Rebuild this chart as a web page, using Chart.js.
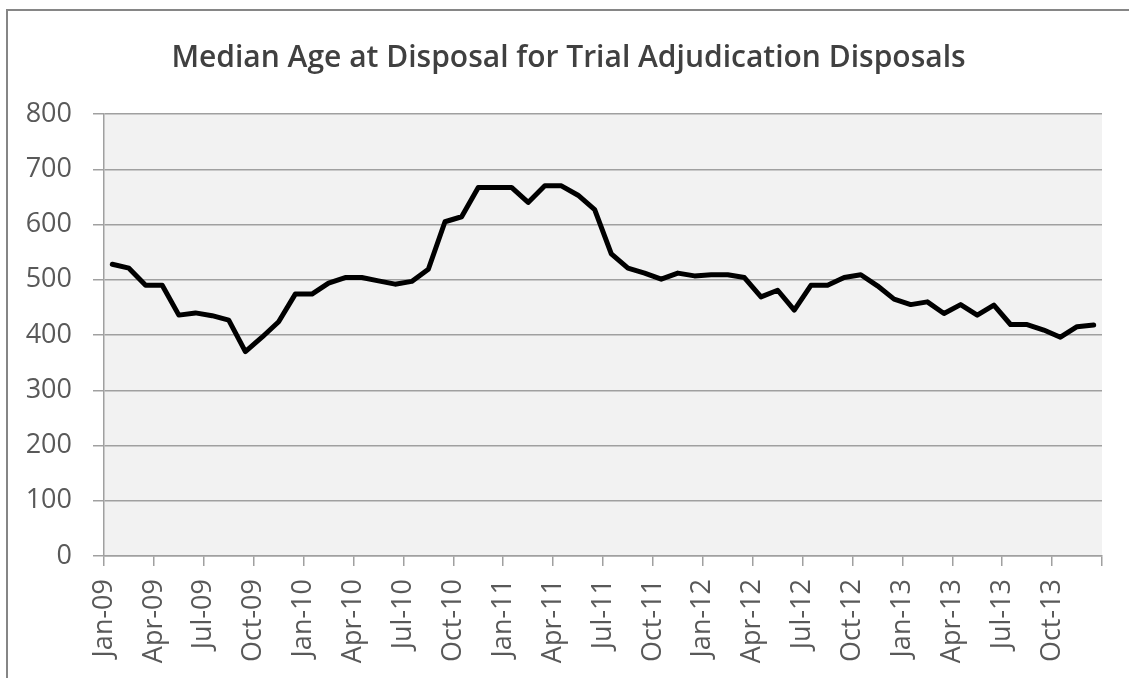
<!DOCTYPE html>
<html><head><meta charset="utf-8">
<script src="https://cdn.jsdelivr.net/npm/chart.js@4"></script>
<style>
html,body{margin:0;padding:0;background:#fff;width:1129px;height:678px;overflow:hidden}
#frame{position:absolute;left:6px;top:9px;width:1123px;height:669px;border-left:2px solid #868686;border-top:2px solid #868686;box-sizing:border-box}
canvas{display:block}
</style></head><body>
<div id="frame"><canvas id="c" width="1121" height="667" style="width:1121px;height:667px"></canvas></div>
<script>
const categories = [
 'Jan-09','Feb-09','Mar-09','Apr-09','May-09','Jun-09','Jul-09','Aug-09','Sep-09','Oct-09','Nov-09','Dec-09',
 'Jan-10','Feb-10','Mar-10','Apr-10','May-10','Jun-10','Jul-10','Aug-10','Sep-10','Oct-10','Nov-10','Dec-10',
 'Jan-11','Feb-11','Mar-11','Apr-11','May-11','Jun-11','Jul-11','Aug-11','Sep-11','Oct-11','Nov-11','Dec-11',
 'Jan-12','Feb-12','Mar-12','Apr-12','May-12','Jun-12','Jul-12','Aug-12','Sep-12','Oct-12','Nov-12','Dec-12',
 'Jan-13','Feb-13','Mar-13','Apr-13','May-13','Jun-13','Jul-13','Aug-13','Sep-13','Oct-13','Nov-13','Dec-13'
];
const values = [
 528, 521, 490, 490, 436, 440, 435, 427, 370, 396, 424, 474,
 474, 494, 504, 504, 498, 492, 497, 519, 605, 614, 667, 667,
 667, 640, 670, 670, 653, 627, 547, 521, 512, 501, 512, 507,
 509, 509, 504, 469, 481, 445, 490, 490, 504, 509, 489, 465,
 455, 460, 439, 455, 436, 454, 419, 419, 409, 396, 415, 418
];
const tickEvery = 3;
const yMin = 0, yMax = 800, yStep = 100;
const titleText = 'Median Age at Disposal for Trial Adjudication Disposals';

const plotBg = {
  id: 'plotBg',
  beforeDraw(chart) {
    const {ctx, chartArea: a} = chart;
    ctx.save();
    ctx.fillStyle = '#f2f2f2';
    ctx.fillRect(a.left, a.top, a.right - a.left, a.bottom - a.top);
    ctx.restore();
  }
};

const gridColor = '#a0a0a0';
const labelColor = '#595959';
const fontFam = "'Open Sans', sans-serif";

new Chart(document.getElementById('c'), {
  type: 'line',
  data: {
    datasets: [{
      data: values.map((v, i) => ({x: i, y: v})),
      borderColor: '#000',
      borderWidth: 5,
      pointRadius: 0,
      tension: 0,
      fill: false,
      borderJoinStyle: 'round',
      borderCapStyle: 'round'
    }]
  },
  options: {
    responsive: false,
    animation: false,
    devicePixelRatio: 1,
    layout: {padding: 0},
    plugins: {
      legend: {display: false},
      tooltip: {enabled: false},
      title: {
        display: true,
        text: titleText,
        color: '#404040',
        font: {family: fontFam, size: 30, weight: '600', lineHeight: 1.2},
        padding: {top: 29, bottom: 38}
      }
    },
    scales: {
      x: {
        type: 'linear',
        min: -0.5,
        max: categories.length - 0.5,
        afterBuildTicks: (s) => {
          const t = [];
          for (let i = 0; i <= categories.length; i += tickEvery) t.push({value: i - 0.5});
          s.ticks = t;
        },
        afterFit: (s) => { s.height = 122; s.paddingLeft = 0; s.paddingRight = 27; },
        ticks: {
          autoSkip: false,
          minRotation: 90,
          maxRotation: 90,
          padding: 13,
          color: labelColor,
          font: {family: fontFam, size: 27},
          callback: (v) => {
            const i = Math.round(v + 0.5);
            return i < categories.length ? categories[i] : '';
          }
        },
        grid: {drawOnChartArea: false, drawTicks: true, tickLength: 10, color: gridColor, lineWidth: 1.5},
        border: {display: true, color: gridColor, width: 1.5}
      },
      y: {
        min: yMin,
        max: yMax,
        afterFit: (s) => { s.width = 96; },
        ticks: {stepSize: yStep, padding: 21, color: labelColor, font: {family: fontFam, size: 27}},
        grid: {color: gridColor, lineWidth: 1.5, tickLength: 11, drawTicks: true},
        border: {display: true, color: gridColor, width: 1.5}
      }
    }
  },
  plugins: [plotBg]
});
</script>
</body></html>
